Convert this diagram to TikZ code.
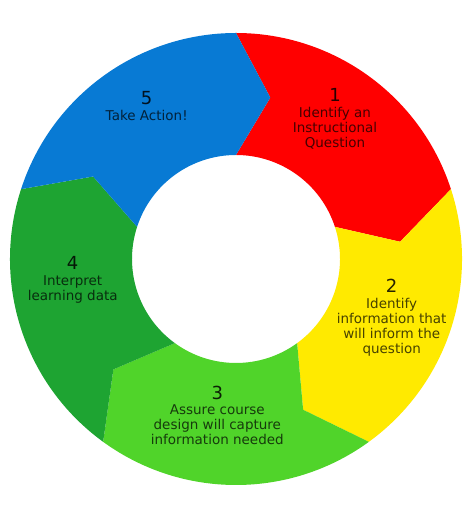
\documentclass[tikz,border=0pt]{standalone}
\usepackage{fontspec}
\setmainfont{DejaVu Sans}
\definecolor{segred}{RGB}{255,0,0}
\definecolor{segyellow}{RGB}{255,234,0}
\definecolor{seglgreen}{RGB}{80,212,42}
\definecolor{segdgreen}{RGB}{30,164,50}
\definecolor{segblue}{RGB}{8,122,212}
\newcommand\ringseg[2]{%
  \fill[#2] (#1:\Ro) arc[start angle=#1, end angle={#1-72}, radius=\Ro]
    -- ({#1-84}:\Rm) -- ({#1-72}:\Ri)
    arc[start angle={#1-72}, end angle=#1, radius=\Ri]
    -- ({#1-12}:\Rm) -- cycle;}
\begin{document}
\begin{tikzpicture}[x=1pt,y=1pt,
  lbl/.style={align=center, anchor=base, inner sep=0pt,
    font=\fontsize{13.5}{15}\selectfont}]
\useasboundingbox[fill=white] (0,0) rectangle (474,508);
\def\Ro{226}\def\Ri{104}\def\Rm{165}
\begin{scope}[shift={(236,249)}]
  \ringseg{90}{segred}
  \ringseg{18}{segyellow}
  \ringseg{-54}{seglgreen}
  \ringseg{-126}{segdgreen}
  \ringseg{162}{segblue}
\end{scope}
\node[lbl, text=black!72!segred] (t1) at (335,360.8)
  {{\fontsize{18}{18}\selectfont\color{black!85!segred}1}\\[0.5pt]Identify an\\Instructional\\Question};
\node[lbl, text=black!72!segyellow] (t2) at (391.7,154.5)
  {{\fontsize{18}{18}\selectfont\color{black!85!segyellow}2}\\[0.5pt]Identify\\information that\\will inform the\\question};
\node[lbl, text=black!72!seglgreen] (t3) at (217.3,63.2)
  {{\fontsize{18}{18}\selectfont\color{black!85!seglgreen}3}\\[0.5pt]Assure course\\design will capture\\information needed};
\node[lbl, text=black!72!segdgreen] (t4) at (72.7,207.5)
  {{\fontsize{18}{18}\selectfont\color{black!85!segdgreen}4}\\[0.5pt]Interpret\\learning data};
\node[lbl, text=black!72!segblue] (t5) at (146.7,387.5)
  {{\fontsize{18}{18}\selectfont\color{black!85!segblue}5}\\[0.5pt]Take Action!};
\end{tikzpicture}
\end{document}
